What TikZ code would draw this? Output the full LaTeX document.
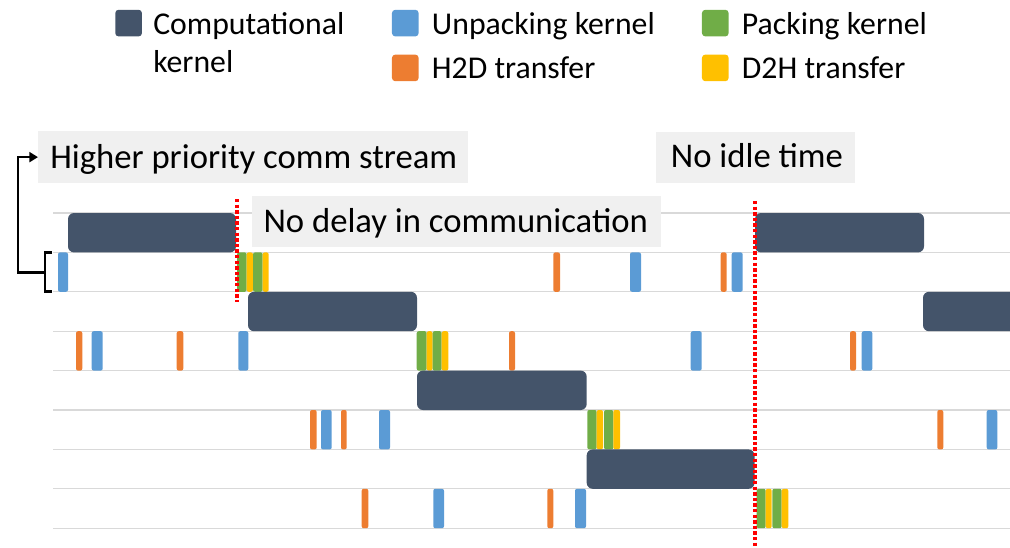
\documentclass[tikz,border=0pt]{standalone}
\usepackage{fontspec}
\setmainfont{Carlito}
\usetikzlibrary{arrows.meta}
\definecolor{compc}{HTML}{44546A}
\definecolor{unpc}{HTML}{5B9BD5}
\definecolor{h2dc}{HTML}{ED7D31}
\definecolor{packc}{HTML}{70AD47}
\definecolor{d2hc}{HTML}{FFC000}
\definecolor{gridc}{HTML}{D9D9D9}
\definecolor{boxc}{HTML}{F0F0F0}
\newcommand\evt[4]{\fill[#1] (#2,{213+39.4*#4}) rectangle (#3,{213+39.4*(#4+1)});}
\begin{document}
\begin{tikzpicture}[x=0.75pt,y=-0.75pt,
  lbl/.style={inner sep=0pt,anchor=base west,font=\fontsize{23.8}{28}\selectfont},
  ann/.style={inner sep=0pt,anchor=base west,font=\fontsize{26}{30}\selectfont},
  comp/.style={fill=compc,rounded corners=4.5pt},
  unp/.style={fill=unpc,rounded corners=1.5pt},
  h2d/.style={fill=h2dc,rounded corners=1.5pt},
  pack/.style={fill=packc,rounded corners=1.5pt},
  d2h/.style={fill=d2hc,rounded corners=1.5pt},
  legsq/.style={inner sep=0pt,minimum size=20pt,rounded corners=2.5pt,anchor=north west},
  tbox/.style={fill=boxc,inner sep=0pt,anchor=north west},
  gridline/.style={draw=gridc,line width=1pt},
  redline/.style={draw=red,line width=2.6pt,dash pattern=on 2.6pt off 1.6pt},
  conn/.style={draw=black,line width=1.9pt}]
\useasboundingbox (0,0) rectangle (1010,547);
% legend
\node[legsq,fill=compc] (lcomp) at (115,9.5) {};
\node[legsq,fill=unpc] (lunp) at (391.7,9.5) {};
\node[legsq,fill=h2dc] (lh2d) at (391.7,54.3) {};
\node[legsq,fill=packc] (lpack) at (701.7,9.5) {};
\node[legsq,fill=d2hc] (ld2h) at (701.7,54.3) {};
\node[lbl] (tcomp) at (153,34.5) {Computational};
\node[lbl] (tcomp2) at (153,72) {kernel};
\node[lbl] (tunp) at (431.7,34.5) {Unpacking kernel};
\node[lbl] (th2d) at (431.7,78) {H2D transfer};
\node[lbl] (tpack) at (741.7,34.5) {Packing kernel};
\node[lbl] (td2h) at (741.7,78) {D2H transfer};
% grid
\foreach \i in {0,...,8} {\draw[gridline] (53,{213+39.4*\i}) -- (1010,{213+39.4*\i});}
% row 0
\evt{comp}{68}{236}{0}
\evt{comp}{755}{924}{0}
% row 1
\evt{unp}{58}{68}{1}
\evt{pack}{237}{246.7}{1}
\evt{d2h}{246.7}{253}{1}
\evt{pack}{253}{262.7}{1}
\evt{d2h}{262.7}{268.7}{1}
\evt{h2d}{553.3}{560}{1}
\evt{unp}{630}{641}{1}
\evt{h2d}{720.7}{726.7}{1}
\evt{unp}{731.7}{742.7}{1}
% row 2
\evt{comp}{248}{417}{2}
\evt{comp}{923}{1020}{2}
% row 3
\evt{h2d}{76}{82.3}{3}
\evt{unp}{91.7}{102.7}{3}
\evt{h2d}{176.7}{183.3}{3}
\evt{unp}{238.3}{248.3}{3}
\evt{pack}{416.7}{426.7}{3}
\evt{d2h}{426.7}{432.5}{3}
\evt{pack}{432.5}{441.7}{3}
\evt{d2h}{441.7}{448.3}{3}
\evt{h2d}{509}{515}{3}
\evt{unp}{690.7}{701.7}{3}
\evt{h2d}{850}{856}{3}
\evt{unp}{861.7}{872.3}{3}
% row 4
\evt{comp}{417}{586.7}{4}
% row 5
\evt{h2d}{310}{316.7}{5}
\evt{unp}{321}{331.7}{5}
\evt{h2d}{341}{346.7}{5}
\evt{unp}{379}{390}{5}
\evt{pack}{587.3}{596.7}{5}
\evt{d2h}{596.7}{603}{5}
\evt{pack}{604}{613.3}{5}
\evt{d2h}{613.3}{620}{5}
\evt{h2d}{937.3}{943.3}{5}
\evt{unp}{986.7}{997.3}{5}
% row 6
\evt{comp}{586.7}{754.5}{6}
% row 7
\evt{h2d}{361.7}{368.3}{7}
\evt{unp}{433.3}{444}{7}
\evt{h2d}{547.3}{553.3}{7}
\evt{unp}{575}{586}{7}
\evt{pack}{756.7}{765.7}{7}
\evt{d2h}{765.7}{771.7}{7}
\evt{pack}{772.3}{781.7}{7}
\evt{d2h}{781.7}{788.3}{7}
% text boxes
\node[tbox,minimum width=322.3pt,minimum height=38.8pt] (hp) at (38,131) {};
\node[ann] (hpt) at (50,168.3) {Higher priority comm stream};
\node[tbox,minimum width=306.75pt,minimum height=38pt] (nd) at (251.7,196) {};
\node[ann] (ndt) at (263.3,232.3) {No delay in communication};
\node[tbox,minimum width=149.25pt,minimum height=38.25pt] (ni) at (656,131.7) {};
\node[ann] (nit) at (670.7,167.7) {No idle time};
% red dotted lines
\coordinate (r1a) at (237,199);
\coordinate (r1b) at (237,302);
\coordinate (r2a) at (755,201);
\coordinate (r2b) at (755,547);
\draw[redline] (r1a) -- (r1b);
\draw[redline] (r2a) -- (r2b);
% bracket and arrow
\coordinate (bt) at (52,252.6);
\coordinate (bb) at (52,291.4);
\coordinate (bm) at (45,272.5);
\draw[conn] (bt) -- (45,252.6) -- (45,291.4) -- (bb);
\draw[conn,-{Triangle[length=6.5pt,width=7.5pt]}] (bm) -- (18,272.5) |- (hp.west);
\end{tikzpicture}
\end{document}
